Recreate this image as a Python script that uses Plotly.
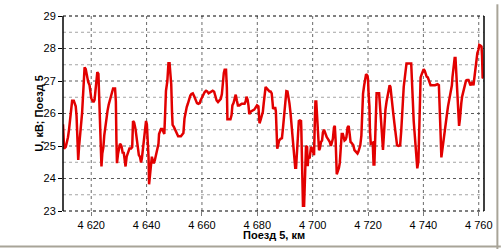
import plotly.graph_objects as go

km = [
    4609.8, 4610.2, 4610.8, 4611.1, 4611.6, 4612.0, 4612.3, 4612.8, 4613.1, 4613.7,
    4614.1, 4614.4, 4614.7, 4614.9, 4615.3, 4615.6, 4615.9, 4616.3, 4616.7, 4617.0,
    4617.3, 4617.6, 4618.0, 4618.2, 4618.6, 4618.9, 4619.4, 4619.6, 4620.0, 4620.5,
    4620.8, 4621.2, 4621.5, 4621.9, 4622.2, 4622.6, 4622.8, 4623.2, 4623.4, 4623.7,
    4624.0, 4624.4, 4624.7, 4625.1, 4625.6, 4625.9, 4626.3, 4626.7, 4627.1, 4627.5,
    4627.9, 4628.6, 4628.9, 4629.1, 4629.3, 4629.7, 4630.1, 4630.4, 4630.8, 4631.0,
    4631.4, 4631.7, 4632.1, 4632.4, 4632.8, 4633.3, 4633.8, 4634.4, 4634.8, 4635.1,
    4635.5, 4636.0, 4636.3, 4636.8, 4637.2, 4637.6, 4638.0, 4638.3, 4638.8, 4639.3,
    4639.8, 4640.1, 4640.4, 4640.7, 4640.9, 4641.3, 4641.7, 4641.9, 4642.2, 4642.6,
    4643.0, 4643.3, 4643.8, 4644.3, 4644.5, 4644.9, 4645.2, 4645.6, 4645.9, 4646.4,
    4646.7, 4647.0, 4647.5, 4647.9, 4648.3, 4648.6, 4648.9, 4649.2, 4649.4, 4649.9,
    4650.4, 4650.9, 4651.4, 4652.4, 4652.8, 4653.3, 4653.7, 4654.1, 4654.5, 4654.9,
    4655.4, 4655.8, 4656.2, 4656.7, 4657.2, 4657.7, 4658.2, 4658.7, 4659.2, 4659.5,
    4660.0, 4660.5, 4661.0, 4661.5, 4661.9, 4662.4, 4662.9, 4663.4, 4663.9, 4664.4,
    4664.8, 4665.3, 4665.8, 4666.3, 4666.8, 4667.2, 4667.5, 4667.9, 4668.2, 4668.7,
    4669.0, 4669.2, 4670.3, 4670.7, 4671.0, 4671.4, 4671.8, 4672.2, 4672.6, 4673.0,
    4673.5, 4673.9, 4674.4, 4675.4, 4675.8, 4676.1, 4676.5, 4676.8, 4677.1, 4677.5,
    4677.9, 4678.4, 4678.9, 4679.4, 4679.9, 4680.4, 4680.6, 4680.8, 4681.2, 4681.6,
    4682.0, 4682.3, 4682.7, 4683.0, 4683.4, 4683.9, 4684.4, 4684.8, 4685.2, 4685.5,
    4685.7, 4686.0, 4686.5, 4686.7, 4687.0, 4687.2, 4687.5, 4687.9, 4688.4, 4688.9,
    4689.3, 4689.7, 4690.1, 4690.5, 4690.9, 4691.3, 4691.6, 4692.0, 4692.3, 4692.7,
    4692.9, 4693.3, 4693.7, 4694.0, 4694.3, 4694.5, 4694.7, 4695.0, 4695.4, 4695.8,
    4695.9, 4696.0, 4696.3, 4696.5, 4696.9, 4697.1, 4697.4, 4697.6, 4698.0, 4698.2,
    4698.4, 4698.7, 4698.9, 4699.2, 4699.4, 4699.8, 4700.1, 4700.5, 4700.7, 4701.0,
    4701.3, 4701.6, 4701.8, 4702.0, 4702.3, 4702.6, 4703.0, 4703.4, 4703.7, 4704.1,
    4704.4, 4704.8, 4705.1, 4705.5, 4705.9, 4706.2, 4706.6, 4706.9, 4707.3, 4707.7,
    4708.0, 4708.3, 4708.5, 4708.7, 4709.1, 4709.5, 4709.8, 4710.2, 4710.5, 4710.9,
    4711.1, 4711.5, 4711.9, 4712.2, 4712.6, 4713.0, 4713.3, 4713.7, 4714.0, 4714.4,
    4714.7, 4715.1, 4715.4, 4715.8, 4716.2, 4716.5, 4716.9, 4717.2, 4717.6, 4717.8,
    4718.2, 4718.6, 4718.9, 4719.3, 4719.8, 4720.0, 4720.2, 4720.5, 4720.7, 4721.0,
    4721.7, 4722.0, 4722.3, 4722.5, 4722.8, 4723.1, 4724.0, 4724.4, 4724.8, 4725.0,
    4725.4, 4725.7, 4726.0, 4726.3, 4726.7, 4727.1, 4727.4, 4727.8, 4728.1, 4728.4,
    4728.7, 4729.1, 4729.5, 4729.8, 4730.2, 4730.5, 4731.0, 4731.6, 4732.0, 4732.2,
    4732.6, 4732.9, 4733.3, 4733.7, 4733.9, 4735.6, 4735.9, 4736.2, 4736.5, 4736.9,
    4737.2, 4737.5, 4737.8, 4738.2, 4738.4, 4738.8, 4739.0, 4739.4, 4739.8, 4740.1,
    4740.5, 4740.8, 4741.2, 4741.6, 4741.9, 4742.3, 4742.6, 4744.2, 4744.7, 4745.1,
    4745.6, 4746.0, 4746.2, 4746.5, 4746.8, 4747.1, 4747.4, 4747.8, 4748.1, 4748.5,
    4748.9, 4749.2, 4749.6, 4749.9, 4750.3, 4750.5, 4750.9, 4751.3, 4751.6, 4751.9,
    4752.1, 4752.5, 4752.7, 4752.9, 4753.2, 4753.4, 4753.7, 4754.0, 4754.4, 4754.7,
    4755.1, 4755.4, 4755.8, 4756.3, 4756.6, 4757.0, 4757.4, 4757.7, 4758.1, 4758.4,
    4758.8, 4759.2, 4759.5, 4759.9, 4760.2, 4760.6, 4761.0, 4761.2, 4761.4, 4761.7,
]

voltage_kv = [
    25.67, 24.92, 24.97, 25.07, 25.27, 25.52, 25.82, 26.07, 26.39, 26.39,
    26.32, 26.22, 25.92, 25.37, 24.57, 24.97, 25.22, 25.57, 26.02, 26.49,
    26.97, 27.42, 27.37, 27.27, 27.19, 26.97, 26.87, 26.67, 26.47, 26.39,
    26.35, 26.42, 26.67, 26.92, 27.27, 27.22, 26.67, 26.27, 25.37, 24.37,
    24.77, 24.97, 25.32, 25.62, 25.87, 26.09, 26.27, 26.42, 26.57, 26.72,
    26.77, 26.77, 26.37, 25.17, 24.47, 24.77, 24.97, 25.07, 25.02, 24.97,
    24.77, 24.82, 24.57, 24.37, 24.67, 24.77, 24.92, 24.92, 24.97, 25.77,
    25.72, 25.52, 25.32, 24.97, 24.72, 24.67, 24.49, 24.62, 24.97, 25.27,
    25.77, 25.67, 25.17, 24.67, 23.82, 24.17, 24.47, 24.67, 24.57, 24.47,
    24.57, 24.67, 24.82, 25.07, 25.37, 25.47, 25.52, 25.52, 25.47, 25.37,
    26.00, 26.70, 27.00, 27.55, 27.55, 27.20, 26.90, 26.00, 25.65, 25.58,
    25.48, 25.35, 25.30, 25.30, 25.35, 25.40, 25.85, 26.10, 26.20, 26.30,
    26.45, 26.55, 26.60, 26.62, 26.53, 26.40, 26.32, 26.30, 26.32, 26.40,
    26.50, 26.60, 26.66, 26.70, 26.68, 26.62, 26.64, 26.68, 26.70, 26.67,
    26.55, 26.40, 26.35, 26.40, 26.45, 26.60, 27.00, 27.25, 27.35, 27.35,
    26.80, 25.82, 25.82, 25.95, 26.25, 26.32, 26.45, 26.58, 26.40, 26.25,
    26.25, 26.28, 26.30, 26.30, 26.38, 26.52, 26.42, 26.25, 25.98, 26.05,
    26.08, 26.10, 26.12, 26.18, 26.25, 26.22, 25.95, 25.70, 25.80, 25.95,
    26.05, 26.30, 26.55, 26.82, 26.77, 26.72, 26.68, 26.68, 26.62, 26.35,
    26.14, 26.17, 26.17, 26.07, 25.57, 24.92, 25.02, 25.17, 25.22, 25.24,
    25.57, 25.92, 26.22, 26.69, 26.68, 26.51, 26.32, 26.02, 25.72, 25.42,
    25.07, 24.72, 24.33, 24.33, 24.82, 25.27, 25.57, 25.77, 25.79, 25.77,
    25.52, 24.92, 24.03, 23.16, 23.16, 23.83, 24.38, 25.00, 24.97, 24.38,
    24.62, 24.64, 24.62, 24.82, 24.97, 24.92, 24.82, 24.72, 25.47, 26.37,
    26.37, 25.82, 25.52, 25.02, 24.87, 24.92, 25.12, 25.17, 25.42, 25.50,
    25.42, 25.37, 25.27, 25.22, 25.17, 25.12, 25.00, 25.14, 25.22, 25.57,
    25.62, 25.17, 24.62, 24.13, 24.23, 24.33, 24.48, 24.92, 25.37, 25.37,
    25.27, 25.17, 25.20, 25.27, 25.57, 25.62, 25.42, 25.12, 25.10, 25.07,
    25.02, 24.87, 24.84, 24.80, 24.77, 24.82, 24.92, 25.02, 25.32, 25.82,
    26.61, 26.86, 27.06, 27.21, 27.16, 27.06, 26.61, 26.22, 25.47, 25.07,
    25.10, 24.43, 24.43, 25.12, 25.85, 26.62, 26.62, 26.22, 25.82, 25.42,
    24.88, 25.32, 25.77, 26.12, 26.37, 26.57, 26.72, 26.87, 26.82, 26.52,
    26.27, 26.02, 25.72, 25.47, 25.22, 25.02, 25.00, 25.02, 25.47, 25.92,
    26.37, 26.82, 27.11, 27.36, 27.54, 27.54, 27.11, 26.37, 25.77, 25.37,
    25.02, 24.68, 24.31, 24.53, 25.22, 26.12, 27.11, 27.21, 27.31, 27.36,
    27.31, 27.23, 27.13, 27.11, 27.01, 26.92, 26.87, 26.87, 26.90, 26.90,
    26.87, 26.12, 25.42, 24.65, 24.83, 24.97, 25.24, 25.52, 25.72, 25.97,
    26.22, 26.37, 26.52, 26.67, 26.87, 27.11, 27.41, 27.71, 27.71, 27.21,
    26.82, 26.42, 26.02, 25.62, 25.82, 26.12, 26.32, 26.52, 26.67, 26.77,
    26.92, 27.01, 27.03, 27.03, 26.97, 26.87, 26.92, 26.97, 26.87, 27.06,
    27.41, 27.71, 27.86, 27.96, 28.11, 28.09, 28.06, 27.76, 27.11, 27.10,
]

x_tick_values = [4620, 4640, 4660, 4680, 4700, 4720, 4740, 4760]
x_tick_labels = ["4 620", "4 640", "4 660", "4 680", "4 700", "4 720", "4 740", "4 760"]
y_tick_values = [23, 24, 25, 26, 27, 28, 29]
y_minor_values = [23.5, 24.5, 25.5, 26.5, 27.5, 28.5]
x_title = "Поезд 5, км"
y_title = "U, кВ; Поезд 5"

X_RANGE = [4609.8, 4761.9]
Y_RANGE = [23, 29]
FONT = "Liberation Sans, Arial, sans-serif"

fig = go.Figure()

# grid lines drawn as thin dotted traces beneath the data line
grid_x, grid_y = [], []
for v in x_tick_values:
    grid_x += [v, v, None]
    grid_y += [Y_RANGE[0], Y_RANGE[1], None]
fig.add_trace(go.Scatter(x=grid_x, y=grid_y, mode="lines",
                         line=dict(color="#6a6a6a", width=1, dash="dot"),
                         hoverinfo="skip", showlegend=False))
minor_x, minor_y = [], []
for v in y_minor_values:
    minor_x += [X_RANGE[0], X_RANGE[1], None]
    minor_y += [v, v, None]
fig.add_trace(go.Scatter(x=minor_x, y=minor_y, mode="lines",
                         line=dict(color="#a4a4a4", width=1, dash="dot"),
                         hoverinfo="skip", showlegend=False))
major_x, major_y = [], []
for v in y_tick_values[1:-1]:
    major_x += [X_RANGE[0], X_RANGE[1], None]
    major_y += [v, v, None]
fig.add_trace(go.Scatter(x=major_x, y=major_y, mode="lines",
                         line=dict(color="#5a5a5a", width=1, dash="dot"),
                         hoverinfo="skip", showlegend=False))

fig.add_trace(go.Scatter(
    x=km, y=voltage_kv, mode="lines",
    line=dict(color="rgb(226,0,0)", width=2.5),
    hoverinfo="skip", showlegend=False,
))

shapes = [
    dict(type="line", xref="paper", yref="paper", x0=0, x1=0, y0=0, y1=1,
         line=dict(color="black", width=1.5), layer="above"),
    dict(type="line", xref="paper", yref="paper", x0=1, x1=1, y0=0, y1=1,
         line=dict(color="black", width=1.5), layer="above"),
    dict(type="line", xref="paper", yref="paper", x0=0, x1=1, y0=1, y1=1,
         line=dict(color="black", width=1, dash="dot"), layer="above"),
    dict(type="line", xref="paper", yref="paper", x0=0, x1=1, y0=0, y1=0,
         line=dict(color="black", width=1, dash="dot"), layer="above"),
    dict(type="line", xref="paper", yref="paper", x0=1.0318, x1=1.0318, y0=-0.2, y1=1.06,
         line=dict(color="#a8a498", width=2), layer="above"),
    dict(type="line", xref="paper", yref="paper", x0=-0.2, x1=1.04, y0=-0.1816, y1=-0.1816,
         line=dict(color="#a8a498", width=2), layer="above"),
]

fig.update_layout(
    width=502, height=249,
    margin=dict(l=63, r=15, t=10, b=38, pad=0),
    paper_bgcolor="white", plot_bgcolor="white",
    font=dict(family=FONT, size=11, color="black"),
    showlegend=False,
    xaxis=dict(
        range=X_RANGE, tickvals=x_tick_values, ticktext=x_tick_labels,
        showgrid=False, ticks="outside", ticklen=4, tickcolor="#7a7a7a", tickwidth=1,
        showline=False, zeroline=False,
        tickfont=dict(family=FONT, size=11, color="black"),
    ),
    yaxis=dict(
        range=Y_RANGE, tickvals=y_tick_values,
        showgrid=False, ticks="outside", ticklen=4, tickcolor="black", tickwidth=1,
        showline=False, zeroline=False,
        tickfont=dict(family=FONT, size=11, color="black"),
    ),
    shapes=shapes,
    annotations=[
        dict(text="<b>" + x_title + "</b>", xref="paper", yref="paper",
             x=0.5, y=-0.123, xanchor="center", yanchor="middle", showarrow=False,
             font=dict(family=FONT, size=11, color="black")),
        dict(text="<b>" + y_title + "</b>", xref="paper", yref="paper",
             x=-0.059, y=0.5, xanchor="center", yanchor="middle", showarrow=False,
             textangle=-90, font=dict(family=FONT, size=11, color="black")),
    ],
)

fig.write_html("out.html")
